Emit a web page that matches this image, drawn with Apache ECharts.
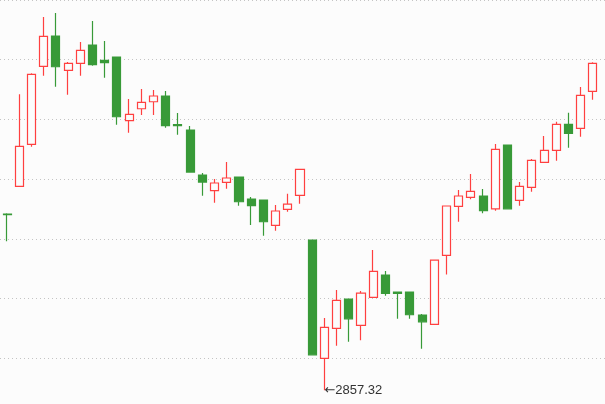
<!DOCTYPE html>
<html>
<head>
<meta charset="utf-8">
<script src="https://cdn.jsdelivr.net/npm/echarts@6/dist/echarts.min.js"></script>
<style>
html,body{margin:0;padding:0;background:#fcfcfc;}
#c{width:605px;height:404px;}
</style>
</head>
<body>
<div id="c"></div>
<script>
const categories = ['1','2','3','4','5','6','7','8','9','10','11','12','13','14','15','16','17','18','19','20','21','22','23','24','25','26','27','28','29','30','31','32','33','34','35','36','37','38','39','40','41','42','43','44','45','46','47','48','49'];
const opens  = [3093.2,3130.4,3186.6,3291.2,3331.8,3285.8,3295.2,3319.7,3299.2,3303.6,3218.3,3234.3,3243.7,3251.4,3213.0,3205.8,3145.5,3124.5,3135.7,3142.8,3113.3,3112.0,3078.1,3099.5,3118.3,3058.4,2899.9,2940.1,2979.3,2944.1,2981.6,3011.5,2988.7,2988.7,2957.9,2945.4,3037.9,3103.6,3115.6,3117.4,3100.3,3185.7,3111.6,3129.0,3162.5,3178.6,3213.4,3208.1,3257.7];
const closes = [3092.4,3184.0,3280.4,3331.4,3290.6,3295.2,3312.6,3293.3,3296.0,3223.6,3226.8,3242.9,3251.4,3211.6,3211.6,3149.5,3136.1,3134.8,3141.5,3109.7,3104.4,3082.9,3097.3,3106.6,3153.1,2904.7,2941.4,2977.6,2952.9,2987.4,3016.5,2987.0,2987.0,2958.3,2948.9,3031.6,3104.0,3117.4,3123.7,3097.7,3179.9,3100.3,3130.4,3165.2,3178.6,3213.4,3201.4,3252.3,3295.2];
const lows   = [3056.7,3130.4,3183.4,3278.6,3263.8,3253.1,3278.6,3292.0,3275.9,3212.9,3202.2,3225.9,3225.9,3208.9,3199.5,3149.5,3117.8,3108.4,3127.1,3104.4,3078.5,3064.2,3070.9,3096.3,3107.0,2904.7,2857.32,2916.8,2922.1,2924.0,2981.6,2983.8,2952.9,2952.9,2912.7,2945.4,3012.4,3082.9,3112.9,3094.2,3097.7,3100.3,3104.4,3123.1,3162.5,3164.7,3182.1,3196.8,3246.4];
const highs  = [3094.2,3253.6,3281.8,3357.2,3362.6,3296.9,3323.7,3351.9,3325.1,3303.6,3247.3,3260.7,3259.4,3258.1,3228.6,3211.2,3148.2,3140.1,3162.9,3142.8,3116.0,3112.0,3105.3,3120.4,3153.1,3058.4,2953.9,2991.4,2979.3,2990.1,3045.0,3016.9,2988.7,2988.7,2959.2,3032.5,3104.0,3125.4,3146.8,3126.7,3187.0,3185.7,3136.1,3166.9,3197.8,3216.9,3229.0,3263.4,3296.5];

const yMin = 2820, yMax = 3380, yStep = 80;
const candleData = categories.map((_, i) => [opens[i], closes[i], lows[i], highs[i]]);

const chart = echarts.init(document.getElementById('c'), null, {renderer: 'canvas'});
chart.setOption({
  backgroundColor: '#fcfcfc',
  animation: false,
  grid: [
    {left: 1, right: 6, top: 0, height: 418, outerBoundsMode: 'none', containLabel: false},
    {left: 0, right: 0, top: 0, height: 418, outerBoundsMode: 'none', containLabel: false}
  ],
  xAxis: [
    {type: 'category', data: categories, gridIndex: 0, show: false, boundaryGap: true},
    {type: 'value', gridIndex: 1, show: false, min: 0, max: 1}
  ],
  yAxis: [
    {type: 'value', gridIndex: 0, min: yMin, max: yMax, interval: yStep, show: false, splitLine: {show: false}},
    {type: 'value', gridIndex: 1, min: yMin, max: yMax, interval: yStep,
     axisLine: {show: false}, axisTick: {show: false}, axisLabel: {show: false},
     splitLine: {show: true, lineStyle: {color: '#c4c4c4', width: 1, type: [1, 3]}}}
  ],
  series: [{
    type: 'candlestick',
    xAxisIndex: 0,
    yAxisIndex: 0,
    data: candleData,
    barWidth: '70%',
    itemStyle: {
      color: '#fcfcfc',
      color0: '#389a38',
      borderColor: '#ff4040',
      borderColor0: '#389a38',
      borderWidth: 1.2
    },
    markPoint: {
      symbol: 'circle',
      symbolSize: 0,
      data: [{type: 'min', valueDim: 'lowest'}],
      label: {
        show: true,
        position: 'right',
        distance: 0,
        color: '#333',
        fontSize: 13,
        formatter: p => '{a|\u2190}{b|' + p.value + '}',
        rich: {
          a: {fontFamily: 'DejaVu Sans', fontSize: 13, color: '#333'},
          b: {fontSize: 13, color: '#333'}
        }
      }
    }
  }]
});
</script>
</body>
</html>
